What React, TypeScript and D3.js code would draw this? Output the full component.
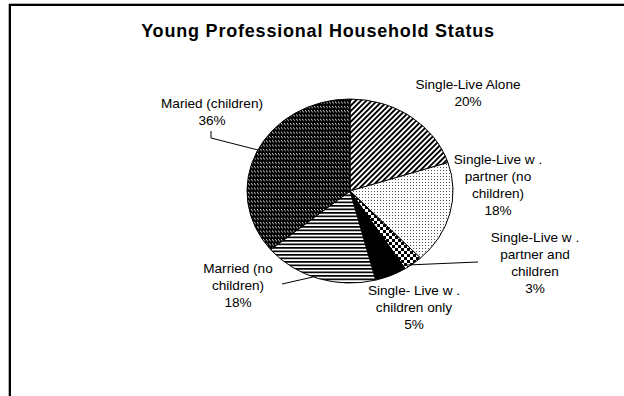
import React from "react";
import * as d3 from "d3";

// ---- data ----
const categories = [
  "Single-Live Alone",
  "Single-Live w . partner (no children)",
  "Single-Live w . partner and children",
  "Single- Live w . children only",
  "Married (no children)",
  "Maried (children)",
];
const values = [20, 18, 3, 5, 18, 36];
const labelLines = [
  ["Single-Live Alone"],
  ["Single-Live w .", "partner (no", "children)"],
  ["Single-Live w .", "partner and", "children"],
  ["Single- Live w .", "children only"],
  ["Married (no", "children)"],
  ["Maried (children)"],
];
const title = "Young Professional Household Status";

// ---- layout ----
const W = 624;
const H = 396;
const cx = 350;
const cy = 191;
const ry = 92;
const rx = 103;
const sx = rx / ry;
const labelPos: [number, number][] = [
  [468, 84],
  [498, 159],
  [535, 237],
  [414, 290],
  [238, 268],
  [212, 103],
];
const leaders: ([number, number][] | null)[] = [
  null,
  null,
  [[407, 265], [478, 262]],
  null,
  [[282, 284], [313, 277]],
  [[211, 131], [211, 138], [258, 150]],
];
const patternIds = ["pStripe", "pDots", "pCheck", "pSolid", "pHoriz", "pDark"];
const font = "'Liberation Sans', Arial, sans-serif";
const fs = 13.6;
const lh = 17;

export default function App() {
  const pie = d3.pie<number>().sort(null).value((d) => d).startAngle(0).endAngle(2 * Math.PI);
  const arcs = pie(values);
  const arcGen = d3.arc<d3.PieArcDatum<number>>().innerRadius(0).outerRadius(ry);
  const line = d3.line<[number, number]>();
  const inv = `scale(${1 / sx},1)`;

  return (
    <svg
      width={W}
      height={H}
      style={{ position: "absolute", left: 0, top: 0, background: "white" }}
    >
      <defs>
        <pattern id="pStripe" patternUnits="userSpaceOnUse" width={3.8} height={3.8} patternTransform={`${inv} rotate(45)`}>
          <rect width={3.8} height={3.8} fill="white" />
          <rect width={1.9} height={3.8} fill="black" />
        </pattern>
        <pattern id="pDots" patternUnits="userSpaceOnUse" width={3} height={3} patternTransform={inv}>
          <rect width={3} height={3} fill="white" />
          <rect width={1} height={1} fill="#555" />
        </pattern>
        <pattern id="pCheck" patternUnits="userSpaceOnUse" width={6} height={6} patternTransform={inv}>
          <rect width={6} height={6} fill="white" />
          <rect width={3} height={3} fill="black" />
          <rect x={3} y={3} width={3} height={3} fill="black" />
        </pattern>
        <pattern id="pSolid" patternUnits="userSpaceOnUse" width={4} height={4}>
          <rect width={4} height={4} fill="black" />
        </pattern>
        <pattern id="pHoriz" patternUnits="userSpaceOnUse" width={4} height={3.5} patternTransform={inv}>
          <rect width={4} height={3.5} fill="white" />
          <rect width={4} height={1.7} fill="black" />
        </pattern>
        <pattern id="pDark" patternUnits="userSpaceOnUse" width={3} height={4.3} patternTransform={inv}>
          <rect width={3} height={4.3} fill="black" />
          <rect x={0} y={1} width={1} height={1} fill="white" />
          <rect x={1} y={2} width={1} height={1} fill="#bbb" />
        </pattern>
      </defs>

      {/* frame */}
      <line x1={8.5} y1={4} x2={8.5} y2={H} stroke="#b0b0b0" strokeWidth={1} />
      <line x1={9} y1={3.5} x2={W} y2={3.5} stroke="#b0b0b0" strokeWidth={1} />
      <rect x={10} y={5} width={W + 20} height={H + 20} fill="white" stroke="black" strokeWidth={2} />

      <text
        x={318}
        y={31}
        textAnchor="middle"
        dominantBaseline="central"
        fontFamily={font}
        fontWeight="bold"
        fontSize={18}
        letterSpacing={0.8}
      >
        {title}
      </text>

      <g transform={`translate(${cx},${cy}) scale(${sx},1)`}>
        {arcs.map((a, i) => (
          <path
            key={categories[i]}
            d={arcGen(a) || ""}
            fill={`url(#${patternIds[i]})`}
            stroke="black"
            strokeWidth={1}
            vectorEffect="non-scaling-stroke"
          />
        ))}
      </g>

      {leaders.map((l, i) =>
        l ? <path key={"l" + i} d={line(l) || ""} fill="none" stroke="black" strokeWidth={1} /> : null
      )}

      {labelLines.map((lines, i) => {
        const all = [...lines, `${values[i]}%`];
        return (
          <text
            key={"t" + i}
            textAnchor="middle"
            fontFamily={font}
            fontSize={fs}
            dominantBaseline="central"
          >
            {all.map((s, j) => (
              <tspan key={j} x={labelPos[i][0]} y={labelPos[i][1] + j * lh}>
                {s}
              </tspan>
            ))}
          </text>
        );
      })}
    </svg>
  );
}
